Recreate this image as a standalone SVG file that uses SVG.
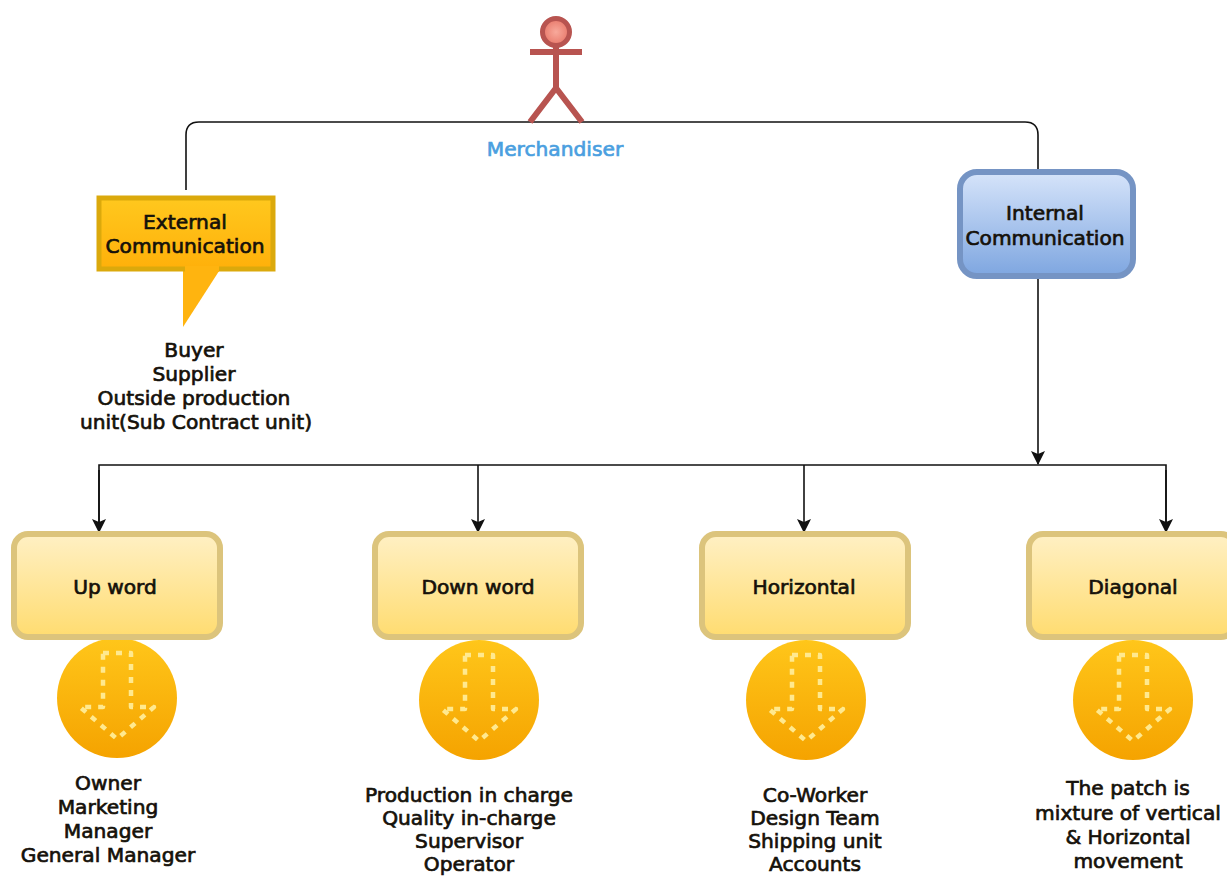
<svg xmlns="http://www.w3.org/2000/svg" width="1227" height="877" viewBox="0 0 1227 877">
<style>
text{font-family:"DejaVu Sans","Noto Sans",sans-serif;font-size:20.2px;font-weight:400;fill:#15110a;stroke:#15110a;stroke-width:.7;text-anchor:middle}
.conn{fill:none;stroke:#111;stroke-width:1.6}
.box{fill:url(#yb);stroke:#dcc47c;stroke-width:6}
.circ{fill:url(#oc)}
.dash{fill:none;stroke:#ffe98f;stroke-width:4.5;stroke-dasharray:6 7;stroke-linejoin:round}
.actor{fill:none;stroke:#b85450;stroke-width:6}
</style>
<defs>
<linearGradient id="yb" x1="0" y1="0" x2="0" y2="1"><stop offset="0" stop-color="#fff0c4"/><stop offset="1" stop-color="#ffdc70"/></linearGradient>
<linearGradient id="oc" x1="0" y1="0" x2="0" y2="1"><stop offset="0" stop-color="#ffc61a"/><stop offset="1" stop-color="#f5a300"/></linearGradient>
<linearGradient id="bb" x1="0" y1="0" x2="0" y2="1"><stop offset="0" stop-color="#d6e4fa"/><stop offset="1" stop-color="#7ea6e0"/></linearGradient>
<linearGradient id="ob" x1="0" y1="0" x2="0" y2="1"><stop offset="0" stop-color="#ffc81e"/><stop offset="1" stop-color="#ffb00a"/></linearGradient>
<radialGradient id="hd"><stop offset="0" stop-color="#f8a99b"/><stop offset="1" stop-color="#e8796b"/></radialGradient>
<marker id="ad" markerWidth="14" markerHeight="14" refX="13" refY="7" orient="auto" markerUnits="userSpaceOnUse" viewBox="0 0 14 14"><path d="M0 0L14 7L0 14L3 7Z" fill="#111"/></marker>
<g id="darrow"><path class="dash" d="M-14 -45H14V9H37L0 41L-37 9H-14Z"/></g>
</defs>

<g id="connectors">
<path class="conn" d="M186 190V135Q186 122 199 122H1025Q1038 122 1038 135V172"/>
<path class="conn" d="M1038 277V464" marker-end="url(#ad)"/>
<path class="conn" d="M99 532V465H1166V532"/>
<path class="conn" d="M99 470V532" marker-end="url(#ad)"/>
<path class="conn" d="M478 465V532" marker-end="url(#ad)"/>
<path class="conn" d="M804 465V532" marker-end="url(#ad)"/>
<path class="conn" d="M1166 470V532" marker-end="url(#ad)"/>
</g>

<g id="merchandiser">
<circle cx="556" cy="32" r="13.5" fill="url(#hd)" stroke="#b85450" stroke-width="5"/>
<path class="actor" d="M556 46V88M530 52H582M556 88L530 122M556 88L582 122"/>
<text x="555" y="156" style="fill:#4a9fe0;stroke:#4a9fe0">Merchandiser</text>
</g>

<g id="external">
<path d="M183 268V327L221 268Z" fill="#ffb40f"/>
<rect x="99" y="198" width="174" height="71" fill="url(#ob)" stroke="#dba90c" stroke-width="5"/>
<path d="M185 266H219V272H185Z" fill="#ffb40f"/>
<text x="185" y="229">External</text>
<text x="185" y="253">Communication</text>
<text x="194" y="357">Buyer</text>
<text x="194" y="381">Supplier</text>
<text x="194" y="405">Outside production</text>
<text x="196" y="429">unit(Sub Contract unit)</text>
</g>

<g id="internal">
<rect x="960" y="172" width="173" height="104" rx="17" fill="url(#bb)" stroke="#7594c4" stroke-width="6"/>
<text x="1045" y="220">Internal</text>
<text x="1045" y="245">Communication</text>
</g>

<g id="upword">
<circle class="circ" cx="117" cy="698" r="60"/>
<use href="#darrow" x="117" y="698"/>
<rect class="box" x="14" y="534" width="206" height="103" rx="14"/>
<text x="115" y="594">Up word</text>
<text x="108" y="790">Owner</text>
<text x="108" y="814">Marketing</text>
<text x="108" y="838">Manager</text>
<text x="108" y="862">General Manager</text>
</g>

<g id="downword">
<circle class="circ" cx="479" cy="700" r="60"/>
<use href="#darrow" x="479" y="700"/>
<rect class="box" x="375" y="534" width="206" height="103" rx="14"/>
<text x="478" y="594">Down word</text>
<text x="469" y="802">Production in charge</text>
<text x="469" y="825">Quality in-charge</text>
<text x="469" y="848">Supervisor</text>
<text x="469" y="871">Operator</text>
</g>

<g id="horizontal">
<circle class="circ" cx="806" cy="700" r="60"/>
<use href="#darrow" x="806" y="700"/>
<rect class="box" x="702" y="534" width="206" height="103" rx="14"/>
<text x="804" y="594">Horizontal</text>
<text x="815" y="802">Co-Worker</text>
<text x="815" y="825">Design Team</text>
<text x="815" y="848">Shipping unit</text>
<text x="815" y="871">Accounts</text>
</g>

<g id="diagonal">
<circle class="circ" cx="1133" cy="700" r="60"/>
<use href="#darrow" x="1133" y="700"/>
<rect class="box" x="1029" y="534" width="206" height="103" rx="14"/>
<text x="1133" y="594">Diagonal</text>
<text x="1128" y="795">The patch is</text>
<text x="1128" y="820">mixture of vertical</text>
<text x="1128" y="844">&amp; Horizontal</text>
<text x="1128" y="868">movement</text>
</g>
</svg>
